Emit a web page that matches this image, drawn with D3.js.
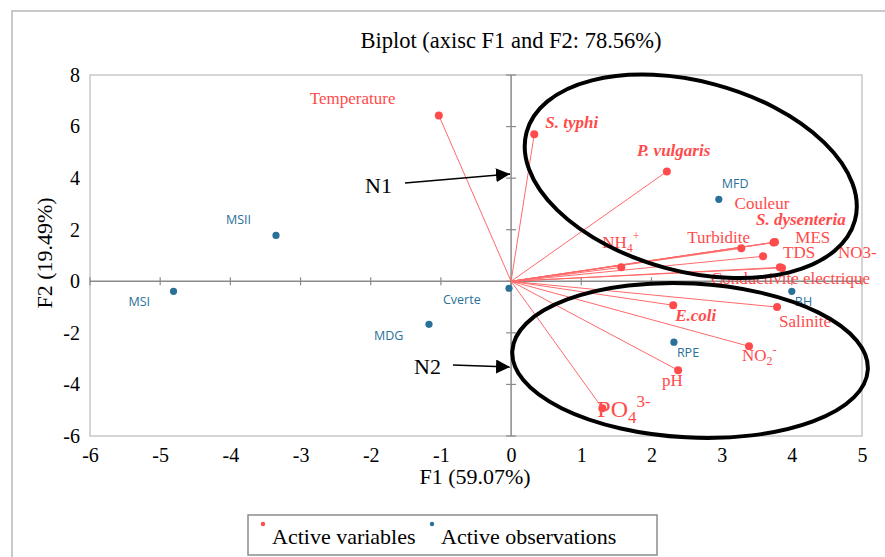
<!DOCTYPE html>
<html><head><meta charset="utf-8">
<script src="https://cdn.jsdelivr.net/npm/d3@7"></script>
<style>body{margin:0;background:#fff}svg{display:block}</style>
</head><body><svg id="c" width="885" height="557"></svg>
<script>
// ---- data ----
const variables = ["Temperature","S. typhi","P. vulgaris","Couleur","S. dysenteria","NH4+","Turbidite","MES","TDS","NO3-","Conductivite electrique","E.coli","Salinite","NO2-","pH","PO43-"];
const varF1 = [-1.03, 0.33, 2.22, 3.74, 3.76, 1.57, 3.28, 3.75, 3.59, 3.83, 3.86, 2.31, 3.79, 3.39, 2.38, 1.30];
const varF2 = [6.43, 5.70, 4.26, 1.50, 1.52, 0.54, 1.28, 1.51, 0.97, 0.54, 0.52, -0.93, -1.00, -2.52, -3.45, -4.92];
const observations = ["MSII","MSI","Cverte","MDG","MFD","RPE","BH"];
const obsF1 = [-3.35, -4.81, -0.03, -1.17, 2.96, 2.32, 4.00];
const obsF2 = [1.78, -0.39, -0.27, -1.67, 3.18, -2.36, -0.39];
const xTicks = [-6,-5,-4,-3,-2,-1,0,1,2,3,4,5];
const yTicks = [-6,-4,-2,0,2,4,6,8];
const titleText = "Biplot (axisc F1 and F2: 78.56%)";
const xTitle = "F1 (59.07%)";
const yTitle = "F2 (19.49%)";
const legendItems = ["Active variables","Active observations"];

// ---- layout / style ----
const RED = "#ff4b4b", BLUE = "#2a7199";
const varLabelOffsets = [[-129,-11],[11,-6],[-30,-15],[-39,-34],[-19,-17],[-19,-19],[-54,-5],[21,1],[20,2],[58,-9],[-71,16],[2,16],[2,20],[-7,15],[-16,16],[-5,9]];
const varStyles = [0,1,1,0,1,0,0,0,0,0,0,1,0,0,0,0];
const obsLabelOffsets = [[-50,-11],[-45,15],[-66,16],[-55,16],[3,-11],[3,15],[3,15]];

const svg = d3.select("#c");
const serif = "'Liberation Serif','Times New Roman',serif";
const sans = "'Open Sans','Noto Sans',sans-serif";
const L = 90, R = 862, T = 75, B = 436;
const x = d3.scaleLinear().domain([-6,5]).range([L,R]);
const y = d3.scaleLinear().domain([-6,8]).range([B,T]);
const fmt = d => String(d);

// outer border
svg.append("rect").attr("x",12).attr("y",11).attr("width",900).attr("height",600)
  .attr("fill","none").attr("stroke","#b8b8b8").attr("stroke-width",1.5);

// title
svg.append("text").attr("x",511).attr("y",48).attr("text-anchor","middle")
  .attr("font-family",serif).attr("font-size",22.5).attr("fill","#000").text(titleText);

// plot frame
svg.append("rect").attr("x",L).attr("y",T).attr("width",R-L).attr("height",B-T)
  .attr("fill","none").attr("stroke","#c8c8c8").attr("stroke-width",1.5);

// zero axes
const g = svg.append("g");
g.append("line").attr("x1",L).attr("x2",R).attr("y1",y(0)).attr("y2",y(0)).attr("stroke","#8a8a8a").attr("stroke-width",1.5);
g.append("line").attr("x1",x(0)).attr("x2",x(0)).attr("y1",T).attr("y2",B).attr("stroke","#8a8a8a").attr("stroke-width",1.5);
g.selectAll(".xt").data(xTicks).enter().append("line")
  .attr("x1",d=>x(d)).attr("x2",d=>x(d)).attr("y1",y(0)-4).attr("y2",y(0)+4).attr("stroke","#8a8a8a").attr("stroke-width",1.2);
g.selectAll(".yt").data(yTicks).enter().append("line")
  .attr("x1",x(0)-5).attr("x2",x(0)+5).attr("y1",d=>y(d)).attr("y2",d=>y(d)).attr("stroke","#8a8a8a").attr("stroke-width",1.2);

// tick labels via axes
const xAxis = svg.append("g").attr("transform",`translate(0,${B})`)
  .call(d3.axisBottom(x).tickValues(xTicks).tickSize(0).tickPadding(12).tickFormat(fmt));
xAxis.select(".domain").remove();
xAxis.selectAll("text").attr("font-family",serif).attr("font-size",20).attr("fill","#000");
const yAxis = svg.append("g").attr("transform",`translate(${L},0)`)
  .call(d3.axisLeft(y).tickValues(yTicks).tickSize(0).tickPadding(10).tickFormat(fmt));
yAxis.select(".domain").remove();
yAxis.selectAll("text").attr("font-family",serif).attr("font-size",20).attr("fill","#000");

// axis titles
svg.append("text").attr("x",475).attr("y",484).attr("text-anchor","middle")
  .attr("font-family",serif).attr("font-size",22).text(xTitle);
svg.append("text").attr("transform","translate(52,253) rotate(-90)").attr("text-anchor","middle")
  .attr("font-family",serif).attr("font-size",22).text(yTitle);

// variable vectors
const vars = variables.map((n,i)=>({n,x:varF1[i],y:varF2[i],o:varLabelOffsets[i],s:varStyles[i]}));
svg.append("g").selectAll("line").data(vars).enter().append("line")
  .attr("x1",x(0)).attr("y1",y(0)).attr("x2",d=>x(d.x)).attr("y2",d=>y(d.y))
  .attr("stroke","#ff6a6a").attr("stroke-width",1);
svg.append("g").selectAll("circle").data(vars).enter().append("circle")
  .attr("cx",d=>x(d.x)).attr("cy",d=>y(d.y)).attr("r",4).attr("fill",RED);

// variable labels
const vl = svg.append("g").selectAll("text").data(vars).enter().append("text")
  .attr("x",d=>x(d.x)+d.o[0]).attr("y",d=>y(d.y)+d.o[1])
  .attr("font-family",serif).attr("fill",RED)
  .attr("font-size",d=>d.n==="PO43-"?24:17)
  .attr("font-weight",d=>d.s?"bold":"normal").attr("font-style",d=>d.s?"italic":"normal");
vl.each(function(d){
  const t = d3.select(this);
  if(d.n==="NH4+"){ t.text("NH"); t.append("tspan").attr("font-size",12).attr("dy",4).text("4"); t.append("tspan").attr("font-size",12).attr("dy",-12).text("+"); }
  else if(d.n==="NO2-"){ t.text("NO"); t.append("tspan").attr("font-size",12).attr("dy",4).text("2"); t.append("tspan").attr("font-size",12).attr("dy",-11).text("-"); }
  else if(d.n==="PO43-"){ t.text("PO"); t.append("tspan").attr("font-size",17).attr("dy",6).text("4"); t.append("tspan").attr("font-size",17).attr("dy",-16).text("3-"); }
  else t.text(d.n);
});

// observations
const obs = observations.map((n,i)=>({n,x:obsF1[i],y:obsF2[i],o:obsLabelOffsets[i]}));
svg.append("g").selectAll("circle").data(obs).enter().append("circle")
  .attr("cx",d=>x(d.x)).attr("cy",d=>y(d.y)).attr("r",3.6).attr("fill",BLUE);
svg.append("g").selectAll("text").data(obs).enter().append("text")
  .attr("x",d=>x(d.x)+d.o[0]).attr("y",d=>y(d.y)+d.o[1])
  .attr("font-family",sans).attr("font-size",12.5).attr("fill",BLUE).text(d=>d.n);

// ellipses (annotations)
svg.append("ellipse").attr("transform",`translate(${x(2.56)},${y(4.07)}) rotate(15)`)
  .attr("rx",170).attr("ry",95).attr("fill","none").attr("stroke","#000").attr("stroke-width",4);
svg.append("ellipse").attr("transform",`translate(${x(2.55)},${y(-3.07)}) rotate(3)`)
  .attr("rx",178).attr("ry",77).attr("fill","none").attr("stroke","#000").attr("stroke-width",4);

// arrows
const defs = svg.append("defs");
defs.append("marker").attr("id","ah").attr("viewBox","0 0 10 10").attr("refX",10).attr("refY",5)
  .attr("markerWidth",14).attr("markerHeight",14).attr("markerUnits","userSpaceOnUse").attr("orient","auto")
  .append("path").attr("d","M0,0 L10,5 L0,10 z").attr("fill","#000");
svg.append("line").attr("x1",405).attr("y1",183).attr("x2",510).attr("y2",174)
  .attr("stroke","#000").attr("stroke-width",1.3).attr("marker-end","url(#ah)");
svg.append("line").attr("x1",453).attr("y1",365).attr("x2",510).attr("y2",367)
  .attr("stroke","#000").attr("stroke-width",1.3).attr("marker-end","url(#ah)");
svg.append("text").attr("x",365).attr("y",193).attr("font-family",serif).attr("font-size",22).text("N1");
svg.append("text").attr("x",414).attr("y",374).attr("font-family",serif).attr("font-size",22).text("N2");

// legend
svg.append("rect").attr("x",248).attr("y",515).attr("width",409).attr("height",40)
  .attr("fill","none").attr("stroke","#8c8c8c").attr("stroke-width",1.5);
const lx = [263, 432];
const lc = [RED, BLUE];
const lg = svg.append("g").selectAll("g").data(legendItems).enter().append("g");
lg.append("circle").attr("cx",(d,i)=>lx[i]).attr("cy",524).attr("r",2.2).attr("fill",(d,i)=>lc[i]);
lg.append("text").attr("x",(d,i)=>lx[i]+9).attr("y",544).attr("font-family",serif).attr("font-size",22).text(d=>d);
</script></body></html>
